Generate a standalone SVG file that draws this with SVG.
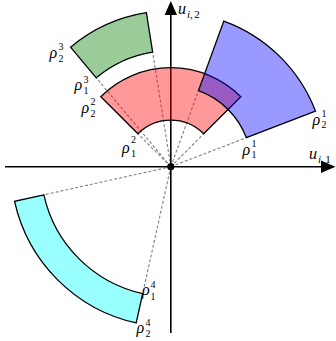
<svg xmlns="http://www.w3.org/2000/svg" width="336" height="341" viewBox="0 0 336 341">
<style>
.dash{stroke:#808080;stroke-width:1.1;stroke-dasharray:3 2;fill:none}
.axis{stroke:#000;stroke-width:1.6;fill:none}
.sec{stroke:#000;stroke-width:1.3;fill-opacity:0.4;stroke-linejoin:miter}
.rho{font-family:"Liberation Serif",serif;font-style:italic;font-size:16px;fill:#000}
.idx{font-family:"Liberation Serif",serif;font-style:normal;font-size:10px}
.u{font-family:"Liberation Serif",serif;font-style:italic;font-size:16px;fill:#000}
.usub{font-family:"Liberation Serif",serif;font-style:italic;font-size:11px}
.num{font-style:normal}
</style>
<rect width="336" height="341" fill="#fff"/>
<g id="connectors">
<line class="dash" x1="170.8" y1="166.7" x2="246.42" y2="137.67"/>
<line class="dash" x1="170.8" y1="166.7" x2="198.50" y2="90.58"/>
<line class="dash" x1="170.8" y1="166.7" x2="203.68" y2="133.82"/>
<line class="dash" x1="170.8" y1="166.7" x2="137.92" y2="133.82"/>
<line class="dash" x1="170.8" y1="166.7" x2="152.65" y2="52.13"/>
<line class="dash" x1="170.8" y1="166.7" x2="96.24" y2="77.84"/>
<line class="dash" x1="170.8" y1="166.7" x2="43.88" y2="194.84"/>
<line class="dash" x1="170.8" y1="166.7" x2="142.66" y2="293.62"/>
</g>
<g id="axes">
<line class="axis" x1="5" y1="166.7" x2="324" y2="166.7"/>
<polygon points="335.5,166.7 321,160.5 321,172.9" fill="#000"/>
<line class="axis" x1="170.8" y1="333" x2="170.8" y2="12"/>
<polygon points="170.8,1 164.6,15 177,15" fill="#000"/>
<text class="u" x="309" y="158.5">u<tspan class="usub" dx="1" dy="4.5">i,<tspan class="num" dx="1.5">1</tspan></tspan></text>
<text class="u" x="178" y="13.5">u<tspan class="usub" dx="1" dy="4.5">i,<tspan class="num" dx="1.5">2</tspan></tspan></text>
</g>
<g id="sector2">
<path class="sec" fill="#ff0000" d="M203.68,133.82 L240.80,96.70 A99,99 0 0 0 100.80,96.70 L137.92,133.82 A46.5,46.5 0 0 1 203.68,133.82 Z"/>
</g>
<g id="sector1">
<path class="sec" fill="#0000ff" d="M246.42,137.67 L315.50,111.15 A155,155 0 0 0 223.81,21.05 L198.50,90.58 A81,81 0 0 1 246.42,137.67 Z"/>
</g>
<g id="sector3">
<path class="sec" fill="#008000" d="M152.65,52.13 L146.40,12.62 A156,156 0 0 0 70.52,47.20 L96.24,77.84 A116,116 0 0 1 152.65,52.13 Z"/>
</g>
<g id="sector4">
<path class="sec" fill="#00ffff" d="M43.88,194.84 L14.59,201.33 A160,160 0 0 0 136.17,322.91 L142.66,293.62 A130,130 0 0 1 43.88,194.84 Z"/>
</g>
<circle id="origin" cx="170.8" cy="166.7" r="3.6" fill="#000"/>
<g id="labels">
<text class="rho" x="312.5" y="125">ρ<tspan class="idx" x="321.5" y="116.5">1</tspan><tspan class="idx" x="321.5" y="128">2</tspan></text>
<text class="rho" x="242.5" y="155">ρ<tspan class="idx" x="251.5" y="146.5">1</tspan><tspan class="idx" x="251.5" y="158">1</tspan></text>
<text class="rho" x="81.5" y="113">ρ<tspan class="idx" x="90.5" y="105">2</tspan><tspan class="idx" x="90.5" y="116.5">2</tspan></text>
<text class="rho" x="122" y="153">ρ<tspan class="idx" x="131" y="143">2</tspan><tspan class="idx" x="131" y="156.5">1</tspan></text>
<text class="rho" x="49.5" y="58">ρ<tspan class="idx" x="58.5" y="50">3</tspan><tspan class="idx" x="58.5" y="61.5">2</tspan></text>
<text class="rho" x="74.5" y="90">ρ<tspan class="idx" x="83.5" y="82.5">3</tspan><tspan class="idx" x="83.5" y="94">1</tspan></text>
<text class="rho" x="142" y="295">ρ<tspan class="idx" x="150.5" y="288">4</tspan><tspan class="idx" x="150.5" y="299.5">1</tspan></text>
<text class="rho" x="136.5" y="333">ρ<tspan class="idx" x="145.5" y="325.5">4</tspan><tspan class="idx" x="145.5" y="337">2</tspan></text>
</g>
</svg>
